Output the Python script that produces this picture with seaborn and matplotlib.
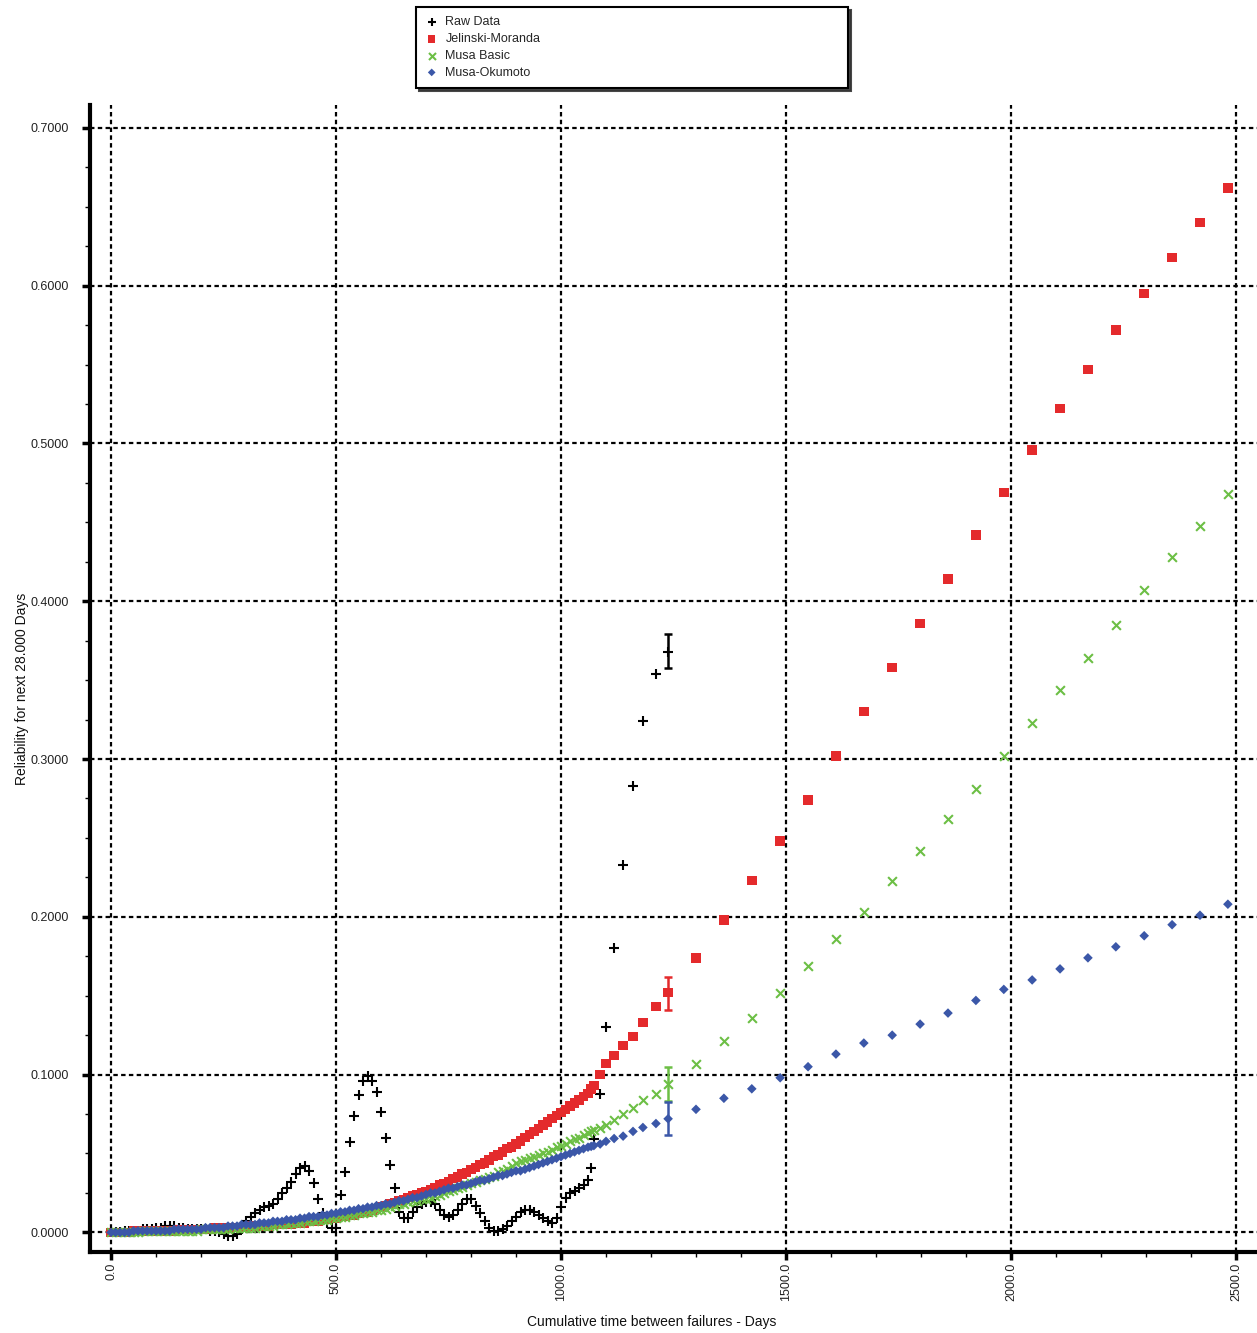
import numpy as np
import pandas as pd
import matplotlib
matplotlib.use("Agg")
import matplotlib.pyplot as plt
import seaborn as sns
from matplotlib.ticker import MultipleLocator, FormatStrFormatter

# ---------------- data ----------------
# cumulative time between failures (days), dense part
x_dense = [0, 10, 20, 30, 40, 50, 60, 70, 80, 90,
           100, 110, 120, 130, 140, 150, 160, 170, 180, 190,
           200, 210, 220, 230, 240, 250, 260, 270, 280, 290,
           300, 310, 320, 330, 340, 350, 360, 370, 380, 390,
           400, 410, 420, 430, 440, 450, 460, 470, 480, 490,
           500, 510, 520, 530, 540, 550, 560, 570, 580, 590,
           600, 610, 620, 630, 640, 650, 660, 670, 680, 690,
           700, 710, 720, 730, 740, 750, 760, 770, 780, 790,
           800, 810, 820, 830, 840, 850, 860, 870, 880, 890,
           900, 910, 920, 930, 940, 950, 960, 970, 980, 990,
           1000, 1010, 1020, 1030, 1040, 1050, 1060]
x_tail = [1067, 1073, 1087, 1100, 1118, 1138, 1160, 1182, 1211, 1238]
x_pred = [1300, 1362, 1424, 1487, 1549, 1611, 1673, 1736, 1798, 1860,
          1922, 1984, 2047, 2109, 2171, 2233, 2296, 2358, 2420, 2482]

raw_dense = [0.000, 0.000, 0.000, 0.001, 0.001, 0.001, 0.001, 0.002, 0.002, 0.002,
             0.003, 0.003, 0.004, 0.004, 0.004, 0.003, 0.003, 0.002, 0.002, 0.002,
             0.002, 0.002, 0.001, 0.001, 0.000, -0.001, -0.002, -0.002, -0.001, 0.002,
             0.007, 0.010, 0.012, 0.014, 0.016, 0.017, 0.018, 0.021, 0.025, 0.028,
             0.032, 0.037, 0.041, 0.042, 0.039, 0.031, 0.021, 0.012, 0.006, 0.003,
             0.003, 0.024, 0.038, 0.057, 0.074, 0.087, 0.096, 0.099, 0.096, 0.089,
             0.076, 0.060, 0.043, 0.028, 0.013, 0.009, 0.009, 0.013, 0.016, 0.018,
             0.019, 0.019, 0.018, 0.014, 0.011, 0.010, 0.011, 0.014, 0.018, 0.021,
             0.021, 0.017, 0.012, 0.007, 0.003, 0.001, 0.001, 0.002, 0.004, 0.007,
             0.010, 0.013, 0.014, 0.014, 0.013, 0.011, 0.009, 0.007, 0.006, 0.009,
             0.016, 0.022, 0.025, 0.026, 0.028, 0.030, 0.033]
raw_tail = [0.041, 0.0595, 0.088, 0.130, 0.180, 0.233, 0.283, 0.324, 0.354, 0.368]

jm_dense = [0.000, 0.000, 0.000, 0.000, 0.000, 0.001, 0.001, 0.001, 0.001, 0.001,
            0.001, 0.001, 0.001, 0.001, 0.001, 0.002, 0.002, 0.002, 0.002, 0.002,
            0.002, 0.002, 0.002, 0.003, 0.003, 0.003, 0.003, 0.003, 0.003, 0.003,
            0.003, 0.004, 0.004, 0.004, 0.004, 0.004, 0.005, 0.005, 0.005, 0.005,
            0.005, 0.006, 0.006, 0.006, 0.007, 0.007, 0.007, 0.008, 0.008, 0.009,
            0.009, 0.010, 0.010, 0.011, 0.011, 0.012, 0.013, 0.013, 0.014, 0.015,
            0.016, 0.017, 0.018, 0.019, 0.020, 0.021, 0.022, 0.023, 0.024, 0.025,
            0.026, 0.027, 0.028, 0.030, 0.031, 0.032, 0.034, 0.035, 0.037, 0.038,
            0.040, 0.041, 0.043, 0.044, 0.046, 0.048, 0.049, 0.051, 0.053, 0.054,
            0.056, 0.058, 0.060, 0.062, 0.064, 0.066, 0.068, 0.070, 0.072, 0.074,
            0.076, 0.078, 0.080, 0.082, 0.084, 0.086, 0.088]
jm_tail = [0.091, 0.093, 0.100, 0.107, 0.112, 0.1185, 0.124, 0.133, 0.143, 0.152]
jm_pred = [0.174, 0.198, 0.223, 0.248, 0.274, 0.302, 0.330, 0.358, 0.386, 0.414,
           0.442, 0.469, 0.496, 0.522, 0.547, 0.572, 0.595, 0.618, 0.640, 0.662]

mb_dense = [0.000, 0.000, 0.000, 0.000, 0.000, 0.000, 0.000, 0.001, 0.001, 0.001,
            0.001, 0.001, 0.001, 0.001, 0.001, 0.001, 0.001, 0.001, 0.001, 0.001,
            0.002, 0.002, 0.002, 0.002, 0.002, 0.002, 0.002, 0.003, 0.003, 0.003,
            0.003, 0.003, 0.003, 0.004, 0.004, 0.004, 0.004, 0.005, 0.005, 0.005,
            0.006, 0.006, 0.006, 0.007, 0.007, 0.007, 0.008, 0.008, 0.008, 0.009,
            0.009, 0.010, 0.010, 0.011, 0.011, 0.012, 0.012, 0.013, 0.013, 0.014,
            0.014, 0.015, 0.016, 0.017, 0.018, 0.018, 0.019, 0.020, 0.020, 0.021,
            0.021, 0.022, 0.023, 0.024, 0.025, 0.026, 0.027, 0.028, 0.029, 0.030,
            0.031, 0.032, 0.033, 0.034, 0.035, 0.036, 0.038, 0.039, 0.040, 0.042,
            0.044, 0.045, 0.046, 0.047, 0.048, 0.049, 0.050, 0.051, 0.052, 0.054,
            0.055, 0.056, 0.058, 0.059, 0.060, 0.062, 0.063]
mb_tail = [0.064, 0.065, 0.066, 0.068, 0.071, 0.075, 0.079, 0.084, 0.088, 0.094]
mb_pred = [0.107, 0.121, 0.136, 0.152, 0.169, 0.186, 0.203, 0.223, 0.242, 0.262,
           0.281, 0.302, 0.323, 0.344, 0.364, 0.385, 0.407, 0.428, 0.448, 0.468]

mo_dense = [0.000, 0.000, 0.000, 0.000, 0.000, 0.001, 0.001, 0.001, 0.001, 0.001,
            0.001, 0.001, 0.001, 0.001, 0.002, 0.002, 0.002, 0.002, 0.002, 0.002,
            0.002, 0.003, 0.003, 0.003, 0.003, 0.003, 0.004, 0.004, 0.004, 0.005,
            0.005, 0.005, 0.005, 0.006, 0.006, 0.006, 0.007, 0.007, 0.007, 0.008,
            0.008, 0.008, 0.009, 0.009, 0.010, 0.010, 0.010, 0.011, 0.011, 0.012,
            0.012, 0.013, 0.013, 0.014, 0.014, 0.015, 0.015, 0.016, 0.016, 0.017,
            0.017, 0.018, 0.018, 0.019, 0.020, 0.020, 0.021, 0.022, 0.022, 0.023,
            0.024, 0.025, 0.025, 0.026, 0.027, 0.028, 0.028, 0.029, 0.030, 0.030,
            0.031, 0.032, 0.033, 0.033, 0.034, 0.035, 0.036, 0.036, 0.037, 0.038,
            0.039, 0.039, 0.040, 0.041, 0.042, 0.043, 0.044, 0.045, 0.046, 0.047,
            0.048, 0.049, 0.050, 0.051, 0.052, 0.053, 0.054]
mo_tail = [0.0545, 0.055, 0.056, 0.0577, 0.0595, 0.061, 0.064, 0.0665, 0.069, 0.072]
mo_pred = [0.078, 0.085, 0.091, 0.098, 0.105, 0.113, 0.120, 0.125, 0.132, 0.139,
           0.147, 0.154, 0.160, 0.167, 0.174, 0.181, 0.188, 0.195, 0.201, 0.208]

# error bars at the last observed failure
err_x = 1238
err_center = [0.368, 0.152, 0.094, 0.072]
err_low = [0.358, 0.141, 0.083, 0.0615]
err_high = [0.379, 0.162, 0.105, 0.0824]

series_names = ["Raw Data", "Jelinski-Moranda", "Musa Basic", "Musa-Okumoto"]
series_colors = ["#000000", "#e42a2c", "#6cbf45", "#3b57a8"]

x_ticks = [0, 500, 1000, 1500, 2000, 2500]
y_ticks = [0.0, 0.1, 0.2, 0.3, 0.4, 0.5, 0.6, 0.7]

# ---------------- figure ----------------
sns.set_style("ticks")
plt.rcParams['font.family'] = ['Liberation Sans', 'DejaVu Sans']

fig = plt.figure(figsize=(12.57, 13.33), dpi=100)
ax = fig.add_axes([0.0716, 0.0608, 0.9284, 0.8604])

df_raw = pd.DataFrame({"x": x_dense + x_tail, "y": raw_dense + raw_tail})
df_jm = pd.DataFrame({"x": x_dense + x_tail + x_pred, "y": jm_dense + jm_tail + jm_pred})
df_mb = pd.DataFrame({"x": x_dense + x_tail + x_pred, "y": mb_dense + mb_tail + mb_pred})
df_mo = pd.DataFrame({"x": x_dense + x_tail + x_pred, "y": mo_dense + mo_tail + mo_pred})

sns.scatterplot(data=df_raw, x="x", y="y", marker="+", color=series_colors[0],
                s=60, linewidth=1.5, ax=ax, label=series_names[0], zorder=3)
sns.scatterplot(data=df_jm, x="x", y="y", marker="s", color=series_colors[1],
                s=46, linewidth=0, edgecolor="none", ax=ax, label=series_names[1], zorder=3)
sns.scatterplot(data=df_mb, x="x", y="y", marker="x", color=series_colors[2],
                s=40, linewidth=1.5, ax=ax, label=series_names[2], zorder=3)
sns.scatterplot(data=df_mo, x="x", y="y", marker="D", color=series_colors[3],
                s=24, linewidth=0, edgecolor="none", ax=ax, label=series_names[3], zorder=3)

for c, lo, hi, col in zip(err_center, err_low, err_high, series_colors):
    ax.errorbar([err_x], [c], yerr=[[c - lo], [hi - c]], fmt="none", ecolor=col,
                elinewidth=1.8, capsize=3.2, capthick=1.8, zorder=4)

ax.set_xlim(-46.7, 2546.7)
ax.set_ylim(-0.0124, 0.7145)

ax.xaxis.set_major_locator(plt.FixedLocator(x_ticks))
ax.xaxis.set_minor_locator(MultipleLocator(100))
ax.yaxis.set_major_locator(plt.FixedLocator(y_ticks))
ax.yaxis.set_minor_locator(MultipleLocator(0.025))
ax.xaxis.set_major_formatter(FormatStrFormatter("%.1f"))
ax.yaxis.set_major_formatter(FormatStrFormatter("%.4f"))

ax.grid(True, which="major", color="black", linestyle=(0, (2, 1.5)), linewidth=1.6)
ax.set_axisbelow(True)

for side in ["top", "right"]:
    ax.spines[side].set_visible(False)
for side in ["left", "bottom"]:
    ax.spines[side].set_linewidth(3)
    ax.spines[side].set_color("black")

ax.tick_params(axis="both", which="major", direction="out", length=6, width=2.5,
               color="black", labelsize=9, labelcolor="#222222")
ax.tick_params(axis="both", which="minor", direction="out", length=3.5, width=1,
               color="black")
ax.tick_params(axis="y", which="major", pad=9)
ax.tick_params(axis="x", which="major", pad=2, labelrotation=90)

ax.set_xlabel("Cumulative time between failures - Days", fontsize=10, color="#111111")
ax.set_ylabel("Reliability for next 28.000 Days", fontsize=10, color="#111111")
ax.xaxis.set_label_coords(0.4816, -0.061)
ax.xaxis.label.set_va("center")
ax.yaxis.set_label_coords(-0.058, 0.491)
ax.yaxis.label.set_va("center")

handles, labels = ax.get_legend_handles_labels()
ax.get_legend().remove()
leg = fig.legend(handles, labels, loc="upper left",
                 bbox_to_anchor=(0.331, 0.9347, 0.3437, 0.06), mode="expand",
                 borderaxespad=0, fontsize=9, frameon=True, fancybox=False,
                 framealpha=1, edgecolor="black", labelspacing=0.38,
                 handlelength=1.0, handletextpad=0.6, borderpad=0.75,
                 shadow={"color": "#333333", "alpha": 0.9}, markerscale=0.8)
leg.get_frame().set_linewidth(1.5)

fig.savefig("out.png", dpi=100)
